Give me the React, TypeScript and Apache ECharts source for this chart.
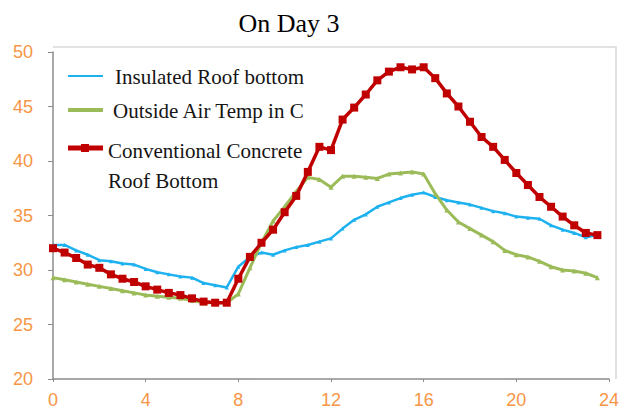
import React, { useEffect, useRef } from "react";
import * as echarts from "echarts";

const hours = [0, 0.5, 1, 1.5, 2, 2.5, 3, 3.5, 4, 4.5, 5, 5.5, 6, 6.5, 7, 7.5, 8, 8.5, 9, 9.5, 10, 10.5, 11, 11.5, 12, 12.5, 13, 13.5, 14, 14.5, 15, 15.5, 16, 16.5, 17, 17.5, 18, 18.5, 19, 19.5, 20, 20.5, 21, 21.5, 22, 22.5, 23, 23.5];

const insulated = [32.3, 32.3, 31.8, 31.4, 30.9, 30.8, 30.6, 30.5, 30.1, 29.8, 29.6, 29.4, 29.3, 28.8, 28.6, 28.4, 30.3, 31.2, 31.6, 31.4, 31.8, 32.1, 32.3, 32.6, 32.9, 33.8, 34.6, 35.1, 35.8, 36.2, 36.6, 36.9, 37.1, 36.7, 36.4, 36.2, 36.0, 35.7, 35.4, 35.2, 34.9, 34.8, 34.7, 34.1, 33.7, 33.4, 33.0, 33.2];

const outside = [29.3, 29.1, 28.9, 28.7, 28.5, 28.3, 28.1, 27.9, 27.7, 27.6, 27.5, 27.4, 27.2, 27.0, 27.0, 27.0, 27.8, 30.2, 32.5, 34.5, 35.8, 37.2, 38.5, 38.3, 37.6, 38.6, 38.6, 38.5, 38.4, 38.8, 38.9, 39.0, 38.8, 37.0, 35.5, 34.4, 33.8, 33.2, 32.6, 31.8, 31.4, 31.2, 30.8, 30.3, 30.0, 29.9, 29.7, 29.3];

const conventional = [32.0, 31.6, 31.1, 30.5, 30.2, 29.6, 29.2, 28.9, 28.5, 28.2, 27.9, 27.7, 27.4, 27.1, 27.0, 27.0, 29.2, 31.2, 32.5, 33.7, 35.3, 36.8, 39.0, 41.3, 41.0, 43.8, 44.9, 46.1, 47.4, 48.2, 48.6, 48.4, 48.6, 47.6, 46.2, 45.0, 43.6, 42.2, 41.3, 40.1, 38.9, 37.8, 36.7, 35.8, 34.9, 34.1, 33.4, 33.2];

const seriesNames = ["Insulated Roof bottom", "Outside Air Temp in C", "Conventional Concrete Roof Bottom"];
const titleText = "On Day 3";

const BLUE = "#1eb1ef";
const GREEN = "#9bbb59";
const RED = "#c00000";
const ORANGE = "#f79646";
const SERIF = "'Liberation Serif', 'Times New Roman', serif";
const SANS = "'Liberation Sans', Arial, sans-serif";

const pairs = (vals: number[]) => hours.map((h, i) => [h, vals[i]]);

export default function App() {
  const ref = useRef<HTMLDivElement>(null);
  useEffect(() => {
    if (!ref.current) return;
    const chart = echarts.init(ref.current, undefined, { renderer: "svg" });
    const legendText = (x: number, y: number, text: string) => ({
      type: "text",
      x,
      y,
      style: { text, fill: "#151515", font: `21px ${SERIF}`, verticalAlign: "middle", align: "left" },
    });
    chart.setOption({
      animation: false,
      backgroundColor: "#ffffff",
      title: {
        text: titleText,
        left: 284,
        top: 5,
        textAlign: "center",
        textStyle: { fontFamily: SERIF, fontSize: 26, fontWeight: "normal", color: "#000" },
      },
      grid: { left: 53, right: 6, top: 52, bottom: 38, containLabel: false },
      xAxis: {
        type: "value",
        min: 0,
        max: 24,
        interval: 4,
        axisLine: { show: true, lineStyle: { color: "#8c8c8c", width: 1.5 } },
        axisTick: { show: true, length: 3, lineStyle: { color: "#8c8c8c" } },
        splitLine: { show: false },
        axisLabel: { color: ORANGE, fontFamily: SANS, fontSize: 18, margin: 12 },
      },
      yAxis: {
        type: "value",
        min: 20,
        max: 50,
        interval: 5,
        axisLine: { show: true, lineStyle: { color: "#8c8c8c", width: 1.5 } },
        axisTick: { show: true, length: 5, lineStyle: { color: "#8c8c8c" } },
        splitLine: { show: false },
        axisLabel: { color: ORANGE, fontFamily: SANS, fontSize: 18, margin: 20 },
      },
      series: [
        {
          name: seriesNames[0],
          type: "line",
          data: pairs(insulated),
          symbol: "triangle",
          symbolSize: 4,
          itemStyle: { color: BLUE },
          lineStyle: { color: BLUE, width: 2.5 },
          z: 2,
        },
        {
          name: seriesNames[1],
          type: "line",
          data: pairs(outside),
          symbol: "triangle",
          symbolSize: 5,
          itemStyle: { color: GREEN },
          lineStyle: { color: GREEN, width: 3 },
          z: 3,
        },
        {
          name: seriesNames[2],
          type: "line",
          data: pairs(conventional),
          symbol: "rect",
          symbolSize: 8,
          itemStyle: { color: RED },
          lineStyle: { color: RED, width: 3.5 },
          z: 4,
        },
      ],
      graphic: [
        {
          type: "polyline",
          shape: { points: [[53, 47], [616, 47], [616, 379]] },
          style: { stroke: "#d9d9d9", lineWidth: 1.5, fill: "none" },
          silent: true,
        },
        { type: "line", shape: { x1: 68, y1: 76, x2: 103, y2: 76 }, style: { stroke: BLUE, lineWidth: 2 } },
        { type: "line", shape: { x1: 68, y1: 110, x2: 103, y2: 110 }, style: { stroke: GREEN, lineWidth: 4 } },
        { type: "line", shape: { x1: 68, y1: 148, x2: 103, y2: 148 }, style: { stroke: RED, lineWidth: 5 } },
        { type: "rect", shape: { x: 81, y: 144, width: 8, height: 8 }, style: { fill: RED } },
        legendText(115, 77, seriesNames[0]),
        legendText(113, 111, seriesNames[1]),
        legendText(108, 151, "Conventional Concrete"),
        legendText(108, 181, "Roof Bottom"),
      ],
    });
    return () => chart.dispose();
  }, []);
  return <div ref={ref} style={{ width: 622, height: 417, position: "absolute", left: 0, top: 0 }} />;
}
